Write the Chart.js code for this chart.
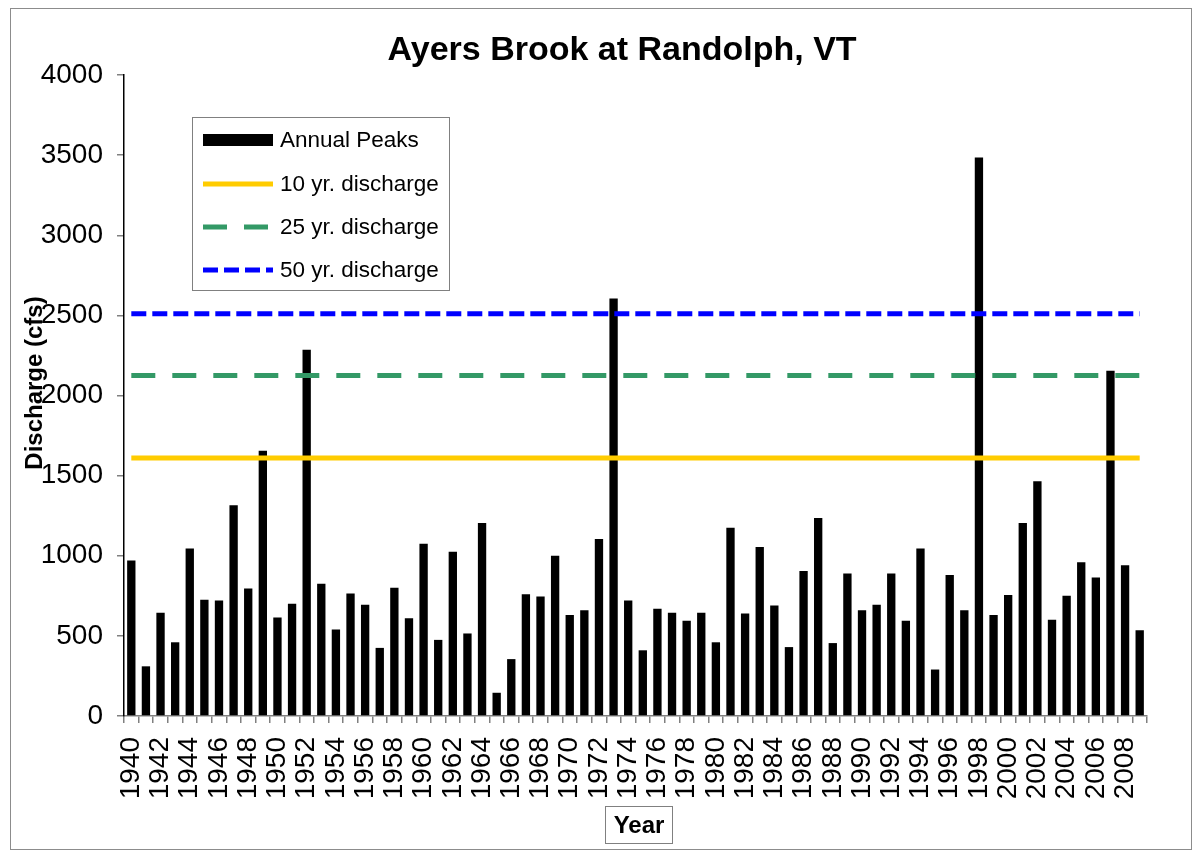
<!DOCTYPE html>
<html>
<head>
<meta charset="utf-8">
<title>Ayers Brook at Randolph, VT</title>
<script src="https://cdn.jsdelivr.net/npm/chart.js@4/dist/chart.umd.min.js"></script>
<style>
    html, body { margin: 0; padding: 0; background: #fff; }
    #wrap { width: 1199px; height: 857px; position: relative; }
</style>
</head>
<body>
<div id="wrap"><canvas id="chart" width="1199" height="857"></canvas></div>
<script>
const years = [
    '1940', '1941', '1942', '1943', '1944', '1945', '1946', '1947', '1948', '1949',
    '1950', '1951', '1952', '1953', '1954', '1955', '1956', '1957', '1958', '1959',
    '1960', '1961', '1962', '1963', '1964', '1965', '1966', '1967', '1968', '1969',
    '1970', '1971', '1972', '1973', '1974', '1975', '1976', '1977', '1978', '1979',
    '1980', '1981', '1982', '1983', '1984', '1985', '1986', '1987', '1988', '1989',
    '1990', '1991', '1992', '1993', '1994', '1995', '1996', '1997', '1998', '1999',
    '2000', '2001', '2002', '2003', '2004', '2005', '2006', '2007', '2008', '2009'
];

// annual peak discharge, cfs
const annualPeaks = [
    970, 310, 645, 460, 1045, 725, 720, 1315, 795, 1655,
    615, 700, 2285, 825, 540, 765, 695, 425, 800, 610,
    1075, 475, 1025, 515, 1205, 145, 355, 760, 745, 1000,
    630, 660, 1105, 2605, 720, 410, 670, 645, 595, 645,
    460, 1175, 640, 1055, 690, 430, 905, 1235, 455, 890,
    660, 695, 890, 595, 1045, 290, 880, 660, 3485, 630,
    755, 1205, 1465, 600, 750, 960, 865, 2155, 940, 535
];

const discharge10 = 1610;
const discharge25 = 2125;
const discharge50 = 2510;

const yTicks = [0, 500, 1000, 1500, 2000, 2500, 3000, 3500, 4000];

const fontFamily = '"Liberation Sans", Arial, sans-serif';
const firstYear = years[0];
const lastYear = years[years.length - 1];

function flatLine(value) {
    return [{ x: firstYear, y: value }, { x: lastYear, y: value }];
}

// title, axis titles, outer frame and legend box
const decorPlugin = {
    id: 'decor',
    afterDraw(chart) {
        const ctx = chart.ctx;
        ctx.save();

        ctx.strokeStyle = '#8c8c8c';
        ctx.lineWidth = 1;
        ctx.strokeRect(10.5, 8.5, 1181, 841);

        ctx.fillStyle = '#000';
        ctx.textAlign = 'center';
        ctx.textBaseline = 'middle';
        ctx.font = 'bold 34px ' + fontFamily;
        ctx.fillText('Ayers Brook at Randolph, VT', 622, 51);

        ctx.save();
        ctx.translate(35, 383);
        ctx.rotate(-Math.PI / 2);
        ctx.font = 'bold 24px ' + fontFamily;
        ctx.fillText('Discharge (cfs)', 0, 0);
        ctx.restore();

        ctx.strokeStyle = '#808080';
        ctx.strokeRect(605.5, 806.5, 67, 37);
        ctx.font = 'bold 24px ' + fontFamily;
        ctx.fillText('Year', 639, 826);

        // legend
        ctx.fillStyle = '#fff';
        ctx.fillRect(192, 117, 257, 173);
        ctx.strokeStyle = '#808080';
        ctx.strokeRect(192.5, 117.5, 257, 173);

        const rows = [140, 184, 227, 270];
        chart.data.datasets.forEach((ds, i) => {
            const y = rows[i];
            if (ds.type === 'bar') {
                ctx.fillStyle = ds.backgroundColor;
                ctx.fillRect(203, y - 6, 70, 12);
            } else {
                ctx.strokeStyle = ds.borderColor;
                ctx.lineWidth = ds.borderWidth;
                ctx.setLineDash(ds.borderDash || []);
                ctx.lineCap = 'butt';
                ctx.beginPath();
                ctx.moveTo(203, y);
                ctx.lineTo(273, y);
                ctx.stroke();
                ctx.setLineDash([]);
            }
            ctx.fillStyle = '#000';
            ctx.textAlign = 'left';
            ctx.font = '22.5px ' + fontFamily;
            ctx.fillText(ds.label, 280, y + 1);
        });

        ctx.restore();
    }
};

const ctx = document.getElementById('chart').getContext('2d');

const chart = new Chart(ctx, {
    data: {
        labels: years,
        datasets: [
            {
                type: 'bar',
                label: 'Annual Peaks',
                data: annualPeaks,
                backgroundColor: '#000000',
                barPercentage: 0.57,
                categoryPercentage: 1.0,
                order: 2
            },
            {
                type: 'line',
                label: '10 yr. discharge',
                data: flatLine(discharge10),
                borderColor: '#FFCC00',
                borderWidth: 5,
                pointRadius: 0,
                order: 1
            },
            {
                type: 'line',
                label: '25 yr. discharge',
                data: flatLine(discharge25),
                borderColor: '#339966',
                borderWidth: 5,
                borderDash: [24, 17],
                pointRadius: 0,
                order: 1
            },
            {
                type: 'line',
                label: '50 yr. discharge',
                data: flatLine(discharge50),
                borderColor: '#0000FF',
                borderWidth: 5,
                borderDash: [15, 6],
                pointRadius: 0,
                order: 1
            }
        ]
    },
    options: {
        responsive: false,
        animation: false,
        layout: {
            padding: { left: 0, right: 52, top: 75, bottom: 0 }
        },
        plugins: {
            legend: { display: false },
            tooltip: { enabled: false }
        },
        scales: {
            x: {
                type: 'category',
                offset: true,
                grid: {
                    offset: true,
                    drawOnChartArea: false,
                    drawTicks: true,
                    tickLength: 7,
                    tickColor: '#808080',
                    lineWidth: 1.5
                },
                border: { color: '#808080', width: 1.5 },
                ticks: {
                    autoSkip: false,
                    minRotation: 90,
                    maxRotation: 90,
                    padding: 14,
                    color: '#000',
                    font: { family: fontFamily, size: 28 },
                    callback: function (value, index) {
                        return index % 2 === 0 ? this.getLabelForValue(value) : '';
                    }
                },
                afterFit(scale) {
                    scale.height = 141;
                }
            },
            y: {
                min: 0,
                max: 4000,
                afterBuildTicks(scale) {
                    scale.ticks = yTicks.map(v => ({ value: v }));
                },
                grid: {
                    drawOnChartArea: false,
                    drawTicks: true,
                    tickLength: 7,
                    tickColor: '#808080',
                    lineWidth: 1.5
                },
                border: { color: '#000', width: 1.5 },
                ticks: {
                    padding: 14,
                    color: '#000',
                    font: { family: fontFamily, size: 28 },
                    callback: value => String(value)
                },
                afterFit(scale) {
                    scale.width = 124;
                }
            }
        }
    },
    plugins: [decorPlugin]
});
</script>
</body>
</html>
